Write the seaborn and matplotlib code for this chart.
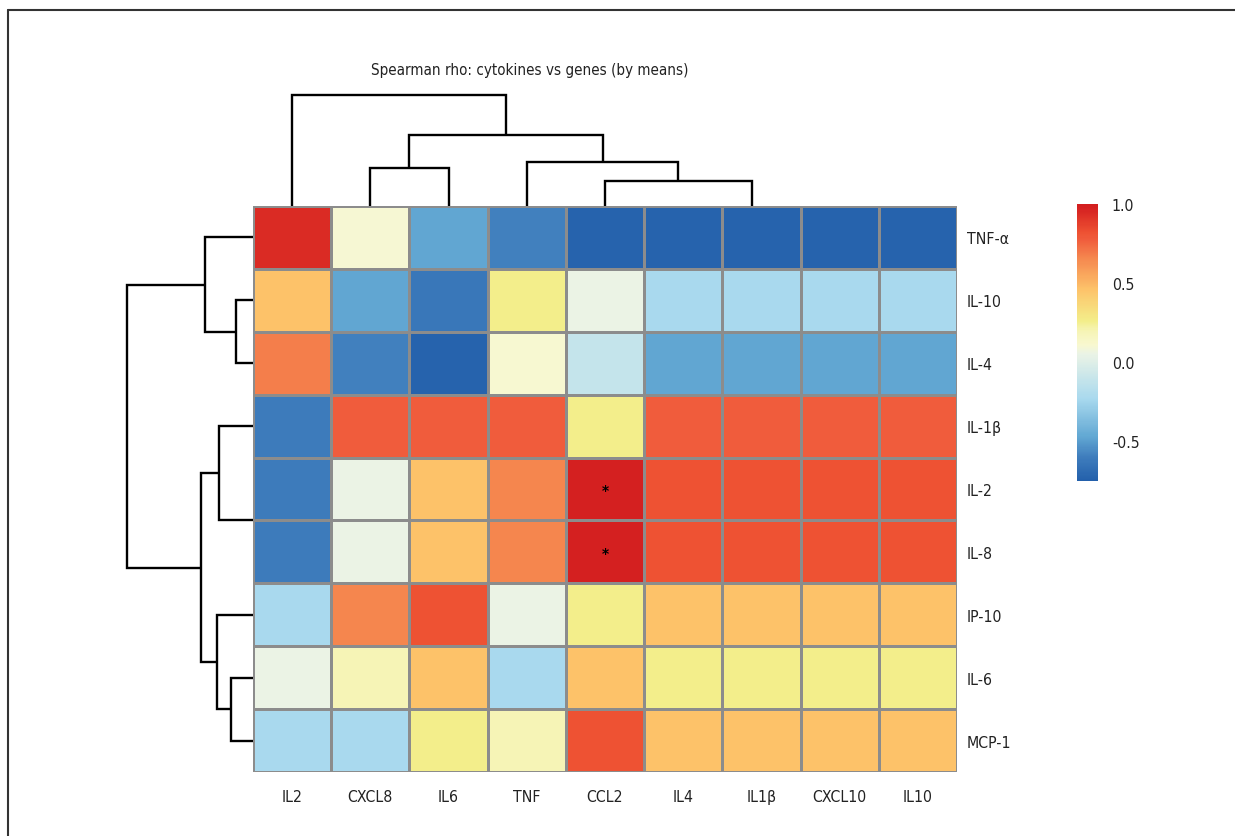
import os
import numpy as np
import pandas as pd
import matplotlib
matplotlib.use("Agg")
import matplotlib.pyplot as plt
from matplotlib.colors import LinearSegmentedColormap
from matplotlib.lines import Line2D
from matplotlib import font_manager
import seaborn as sns

# ---------------- data ----------------
genes = ["IL2", "CXCL8", "IL6", "TNF", "CCL2", "IL4", "IL1β", "CXCL10", "IL10"]
cytokines = ["TNF-α", "IL-10", "IL-4", "IL-1β", "IL-2", "IL-8", "IP-10", "IL-6", "MCP-1"]

rho_tnfa = [0.94, 0.10, -0.47, -0.59, -0.73, -0.73, -0.73, -0.73, -0.73]
rho_il10 = [0.46, -0.47, -0.63, 0.26, 0.05, -0.23, -0.23, -0.23, -0.23]
rho_il4 = [0.68, -0.59, -0.73, 0.11, -0.11, -0.47, -0.47, -0.47, -0.47]
rho_il1b = [-0.61, 0.78, 0.78, 0.78, 0.26, 0.78, 0.78, 0.78, 0.78]
rho_il2 = [-0.61, 0.05, 0.46, 0.66, 0.98, 0.82, 0.82, 0.82, 0.82]
rho_il8 = [-0.61, 0.05, 0.46, 0.66, 0.98, 0.82, 0.82, 0.82, 0.82]
rho_ip10 = [-0.23, 0.66, 0.82, 0.05, 0.26, 0.46, 0.46, 0.46, 0.46]
rho_il6 = [0.05, 0.20, 0.46, -0.23, 0.46, 0.26, 0.26, 0.26, 0.26]
rho_mcp1 = [-0.23, -0.23, 0.26, 0.20, 0.82, 0.46, 0.46, 0.46, 0.46]

# significant cells (row, column) marked with an asterisk
signif_rows = ["IL-2", "IL-8"]
signif_cols = ["CCL2", "CCL2"]

# column dendrogram (genes): merge i joins cluster a[i] and b[i] at height h[i]
col_link_a = [7, 6, 5, 4, 1, 3, 13, 0]
col_link_b = [8, 9, 10, 11, 2, 12, 14, 15]
col_link_h = [0.0, 0.0, 0.0, 0.33, 0.51, 0.59, 0.95, 1.48]

# row dendrogram (cytokines)
row_link_a = [4, 1, 7, 3, 6, 0, 12, 14]
row_link_b = [5, 2, 8, 9, 11, 10, 13, 15]
row_link_h = [0.0, 0.23, 0.29, 0.45, 0.48, 0.64, 0.69, 1.68]

cbar_ticks = [-0.5, 0.0, 0.5, 1.0]
cbar_ticklabels = ["-0.5", "0.0", "0.5", "1.0"]
title = "Spearman rho: cytokines vs genes (by means)"

VMIN, VMAX = -0.75, 1.0
# colour ramp (value, colour) as printed in the figure
ramp_vals = [-0.75, -0.60, -0.47, -0.23, 0.05, 0.11, 0.20, 0.26, 0.46, 0.66, 0.78, 0.82, 0.98, 1.0]
ramp_cols = ["#2360ab", "#3f7dbd", "#62a8d3", "#a9d9ee", "#eaf3e6", "#f8f8d0",
             "#f6f4b5", "#f3ee8a", "#fdc36a", "#f5874f", "#f05c3c", "#ee5233",
             "#d52020", "#d21f1f"]

# ---------------- fonts: prefer a condensed sans ----------------
def pick_font():
    prefixes = ("notosans-", "notosans_", "dejavusans", "liberationsansnarrow",
                "liberationsans", "roboto", "opensans", "lato", "inter")
    best, best_rank = None, 99
    for f in font_manager.fontManager.ttflist:
        n = os.path.basename(f.fname).lower().replace(" ", "")
        if not n.startswith(prefixes):
            continue
        if "mono" in n or "serif" in n or "italic" in n or "oblique" in n:
            continue
        if f.style != "normal":
            continue
        try:
            w = int(f.weight)
        except Exception:
            w = 400
        if w != 400:
            continue
        if "condensed" in n and not any(k in n for k in ("semi", "extra", "ultra")):
            r = 0
        elif "narrow" in n:
            r = 1
        elif "semicondensed" in n:
            r = 2
        else:
            continue
        if r < best_rank:
            best, best_rank = f.fname, r
    return best

font_path = pick_font()
sns.set_style("white")
if font_path:
    base_fp = font_manager.FontProperties(fname=font_path)
else:
    base_fp = font_manager.FontProperties(family=["Roboto", "DejaVu Sans"])
plt.rcParams["font.family"] = ["DejaVu Sans"]

# ---------------- figure ----------------
W, H = 1235, 837
fig = plt.figure(figsize=(W / 100, H / 100), dpi=100)
renderer = fig.canvas.get_renderer()

def size_for(text, target_px, ref_size=12.0):
    fp = base_fp.copy()
    fp.set_size(ref_size)
    t = fig.text(0, 0, text, fontproperties=fp)
    wpx = t.get_window_extent(renderer=renderer).width
    t.remove()
    return ref_size * target_px / max(wpx, 1)

tick_fs = size_for("CXCL8", 45)
title_fs = size_for(title, 316)

def fp_sized(s):
    fp = base_fp.copy()
    fp.set_size(s)
    return fp

def fr(x0, y0, x1, y1):
    return [x0 / W, 1 - y1 / H, (x1 - x0) / W, (y1 - y0) / H]

hm_x0, hm_x1, hm_y0, hm_y1 = 253, 957, 207, 773
ax = fig.add_axes(fr(hm_x0, hm_y0, hm_x1, hm_y1))
ax_top = fig.add_axes(fr(hm_x0, 90.5, hm_x1, hm_y0))
ax_left = fig.add_axes(fr(121, hm_y0, hm_x0, hm_y1))
cax = fig.add_axes(fr(1077, 205, 1098, 482))

data = pd.DataFrame([rho_tnfa, rho_il10, rho_il4, rho_il1b, rho_il2, rho_il8,
                     rho_ip10, rho_il6, rho_mcp1], index=cytokines, columns=genes)
annot = pd.DataFrame("", index=cytokines, columns=genes)
for r, c in zip(signif_rows, signif_cols):
    annot.loc[r, c] = "*"

cmap = LinearSegmentedColormap.from_list(
    "rho", [((v - VMIN) / (VMAX - VMIN), c) for v, c in zip(ramp_vals, ramp_cols)])

sns.heatmap(data, ax=ax, cmap=cmap, vmin=VMIN, vmax=VMAX,
            linewidths=1, linecolor="#8c8c8c",
            annot=annot.values, fmt="",
            annot_kws={"fontsize": 10, "fontweight": "bold", "color": "black",
                       "family": "DejaVu Sans"},
            cbar_ax=cax, cbar_kws={"ticks": cbar_ticks})

ax.set_xlabel("")
ax.set_ylabel("")
ax.yaxis.tick_right()
ax.set_yticks(np.arange(len(cytokines)) + 0.5)
ax.set_yticklabels(cytokines, rotation=0)
ax.set_xticks(np.arange(len(genes)) + 0.5)
ax.set_xticklabels(genes, rotation=0)
ax.tick_params(axis="both", length=0)
ax.tick_params(axis="x", pad=12)
ax.tick_params(axis="y", pad=7)
for lab in ax.get_xticklabels() + ax.get_yticklabels():
    lab.set_fontproperties(fp_sized(tick_fs))
    lab.set_color("#222222")
for t in ax.texts:
    t.set_va("center_baseline")

cbar = ax.collections[0].colorbar
cax.tick_params(length=0, pad=10)
cbar.set_ticks(cbar_ticks)
cbar.set_ticklabels(cbar_ticklabels)
for lab in cax.get_yticklabels():
    lab.set_fontproperties(fp_sized(tick_fs))
    lab.set_color("#222222")
cbar.outline.set_visible(False)

# ---------------- dendrograms ----------------
def draw_dendro(axd, la, lb, lh, n, orient):
    pos = {i: i + 0.5 for i in range(n)}
    hgt = {i: 0.0 for i in range(n)}
    nid = n
    for a, b, h in zip(la, lb, lh):
        pa, pb = pos[a], pos[b]
        ha, hb = hgt[a], hgt[b]
        if h > 0:
            ps = [pa, pa, pb, pb]
            hs = [ha, h, h, hb]
            if orient == "top":
                axd.plot(ps, hs, color="black", lw=1.7, clip_on=False,
                         solid_joinstyle="miter", solid_capstyle="butt")
            else:
                axd.plot(hs, ps, color="black", lw=1.7, clip_on=False,
                         solid_joinstyle="miter", solid_capstyle="butt")
        pos[nid] = (pa + pb) / 2
        hgt[nid] = h
        nid += 1
    hmax = max(lh) * 1.05
    if orient == "top":
        axd.set_xlim(0, n)
        axd.set_ylim(0, hmax)
    else:
        axd.set_ylim(n, 0)
        axd.set_xlim(hmax, 0)
    axd.axis("off")

draw_dendro(ax_top, col_link_a, col_link_b, col_link_h, len(genes), "top")
draw_dendro(ax_left, row_link_a, row_link_b, row_link_h, len(cytokines), "left")

# ---------------- title & frame ----------------
fig.text(530 / W, 1 - 70 / H, title, ha="center", va="center",
         fontproperties=fp_sized(title_fs), color="#222222")

fig.add_artist(Line2D([8 / W, 8 / W], [0, 1 - 11 / H], transform=fig.transFigure,
                      color="#333333", lw=1.5))
fig.add_artist(Line2D([8 / W, 1], [1 - 11 / H, 1 - 11 / H], transform=fig.transFigure,
                      color="#333333", lw=1.5))

fig.savefig("out.png", dpi=100)
